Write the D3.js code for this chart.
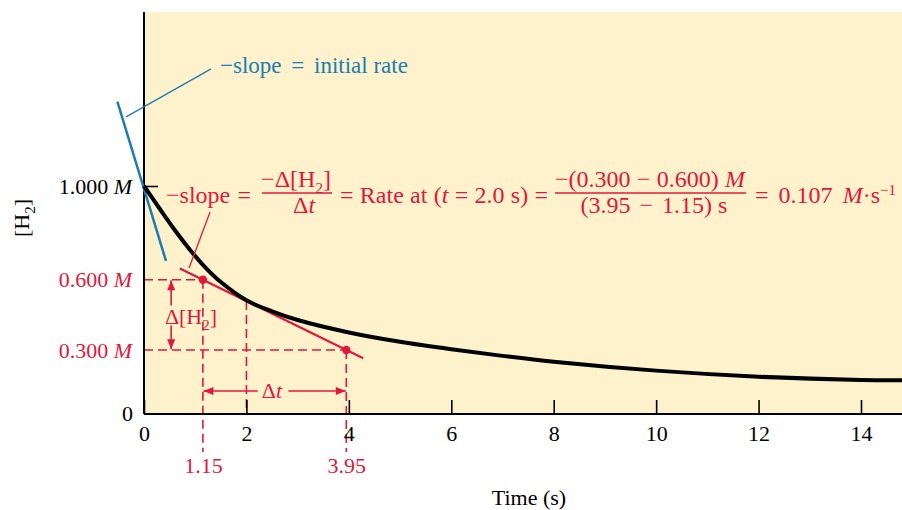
<!DOCTYPE html>
<html>
<head>
<meta charset="utf-8">
<script src="https://cdn.jsdelivr.net/npm/d3@7"></script>
<style>
body { margin: 0; background: #fff; }
svg text { font-family: "Liberation Serif", "Times New Roman", serif; font-size: 22px; }
</style>
</head>
<body>
<div id="chart"></div>
<script>
// [H2] against time
const times = [0, 0.3, 0.6, 0.9, 1.2, 1.5, 2, 2.5, 3, 4, 5, 6, 7, 8, 10, 12, 14, 14.8]
const concs = [1.0, 0.905, 0.812, 0.727, 0.652, 0.59, 0.512, 0.465, 0.428, 0.375, 0.335, 0.303, 0.275, 0.25, 0.212, 0.186, 0.172, 0.171]
const xTicks = [0, 2, 4, 6, 8, 10, 12, 14]
const redTicksX = [1.15, 3.95]
const redTicksY = [0.3, 0.6]

// tangent lines, end points
const initialTangent = [[-0.52, 1.36], [0.43, 0.68]]
const rateTangent = [[0.70, 0.648], [4.28, 0.265]]
const rateDots = [[1.15, 0.600], [3.95, 0.300]]
const tangentPoint = [2.0, 0.509]

const red = '#e0183c'
const blue = '#1b7db2'

const width = 902
const height = 510
const plotL = 144, plotR = 902, plotT = 12, plotB = 414

const x = d3.scaleLinear().domain([0, 14]).range([144, 861])
const y = d3.scaleLinear().domain([0, 1]).range([420.3, 186])

const svg = d3.select('#chart').append('svg')
    .attr('width', width)
    .attr('height', height)

const defs = svg.append('defs')
defs.append('marker')
    .attr('id', 'arrow')
    .attr('viewBox', '0 0 10 8')
    .attr('refX', 10).attr('refY', 4)
    .attr('markerWidth', 11).attr('markerHeight', 8)
    .attr('markerUnits', 'userSpaceOnUse')
    .attr('orient', 'auto')
    .append('path')
    .attr('d', 'M0,0 L10,4 L0,8 Z')
    .attr('fill', red)

// plot background
svg.append('rect')
    .attr('x', plotL).attr('y', plotT)
    .attr('width', plotR - plotL).attr('height', plotB - plotT)
    .attr('fill', '#fdf2cc')

// text with sub/superscripts and italics; spaces widened to reach a width
function rich(sel, px, py, parts, opts = {}) {
    const t = sel.append('text').attr('x', px).attr('y', py)
    if (opts.anchor) t.attr('text-anchor', opts.anchor)
    if (opts.size) t.style('font-size', opts.size + 'px')
    t.attr('fill', opts.fill || '#000')
    let shift = 0
    parts.forEach(([txt, style, gap]) => {
        const s = style === 'sub' ? 6 : style === 'sup' ? -8 : 0
        const ts = t.append('tspan').text(txt).attr('dy', s - shift)
        shift = s
        if (gap) ts.attr('dx', gap)
        if (style === 'i') ts.attr('font-style', 'italic')
        if (style === 'sub' || style === 'sup') ts.style('font-size', '15px')
    })
    if (opts.len) {
        const n = (t.text().match(/ /g) || []).length
        const w = t.node().getComputedTextLength()
        if (n) t.attr('word-spacing', Math.max(0, (opts.len - w) / n))
    }
    return t
}

// dashed guides
const dash = svg.append('g')
    .attr('stroke', red).attr('stroke-width', 1.6)
    .attr('stroke-dasharray', '9,5').attr('fill', 'none')
dash.append('line')
    .attr('x1', plotL).attr('x2', x(rateDots[0][0]))
    .attr('y1', y(rateDots[0][1])).attr('y2', y(rateDots[0][1]))
dash.append('line')
    .attr('x1', plotL).attr('x2', x(rateDots[1][0]))
    .attr('y1', y(rateDots[1][1])).attr('y2', y(rateDots[1][1]))
rateDots.forEach(d => dash.append('line')
    .attr('x1', x(d[0])).attr('x2', x(d[0]))
    .attr('y1', y(d[1])).attr('y2', 452))
dash.append('line')
    .attr('x1', x(tangentPoint[0])).attr('x2', x(tangentPoint[0]))
    .attr('y1', y(tangentPoint[1])).attr('y2', plotB)

// axes
const xAxis = svg.append('g')
    .attr('transform', `translate(0,${plotB})`)
    .call(d3.axisBottom(x).tickValues(xTicks).tickSize(-14).tickPadding(11).tickFormat(d3.format('d')))
xAxis.select('.domain').remove()
xAxis.selectAll('line').attr('stroke', '#000').attr('stroke-width', 1.6)
xAxis.selectAll('text').attr('font-family', null).attr('fill', '#000')

const xRed = svg.append('g')
    .attr('transform', `translate(0,${plotB})`)
    .call(d3.axisBottom(x).tickValues(redTicksX).tickSize(0).tickPadding(43).tickFormat(d3.format('.2f')))
xRed.select('.domain').remove()
xRed.selectAll('text').attr('font-family', null).attr('fill', red)

const yAxis = svg.append('g')
    .attr('transform', `translate(${plotL},0)`)
    .call(d3.axisLeft(y).tickValues([1]).tickSize(-14).tickPadding(12).tickFormat(''))
yAxis.select('.domain').remove()
yAxis.selectAll('line').attr('stroke', '#000').attr('stroke-width', 1.6)
yAxis.selectAll('text').attr('font-family', null).attr('fill', '#000')
    .each(function (d) {
        const t = d3.select(this)
        t.append('tspan').text(d3.format('.3f')(d) + ' ')
        t.append('tspan').attr('font-style', 'italic').text('M')
    })

const yRed = svg.append('g')
    .attr('transform', `translate(${plotL},0)`)
    .call(d3.axisLeft(y).tickValues(redTicksY).tickSize(0).tickPadding(12).tickFormat(''))
yRed.select('.domain').remove()
yRed.selectAll('text').attr('font-family', null).attr('fill', red)
    .each(function (d) {
        const t = d3.select(this)
        t.append('tspan').text(d3.format('.3f')(d) + ' ')
        t.append('tspan').attr('font-style', 'italic').text('M')
    })

svg.append('text')
    .attr('x', 133).attr('y', plotB).attr('dy', '0.32em')
    .attr('text-anchor', 'end')
    .text('0')

// frame lines
svg.append('line').attr('x1', plotL).attr('x2', plotL).attr('y1', plotT).attr('y2', plotB)
    .attr('stroke', '#000').attr('stroke-width', 2)
svg.append('line').attr('x1', plotL).attr('x2', plotR).attr('y1', plotB).attr('y2', plotB)
    .attr('stroke', '#000').attr('stroke-width', 2)

// tangents
const line = d3.line().x(d => x(d[0])).y(d => y(d[1]))
svg.append('path')
    .attr('d', line(initialTangent))
    .attr('stroke', blue).attr('stroke-width', 2.5).attr('fill', 'none')
svg.append('path')
    .attr('d', line(rateTangent))
    .attr('stroke', red).attr('stroke-width', 2.2).attr('fill', 'none')

// concentration curve
const curve = d3.line()
    .x((d, i) => x(times[i]))
    .y(d => y(d))
    .curve(d3.curveCatmullRom.alpha(0.5))
svg.append('path')
    .attr('d', curve(concs))
    .attr('stroke', '#000').attr('stroke-width', 4).attr('fill', 'none')

svg.selectAll('circle.dot')
    .data(rateDots)
    .enter()
    .append('circle')
    .attr('class', 'dot')
    .attr('cx', d => x(d[0]))
    .attr('cy', d => y(d[1]))
    .attr('r', 4.2)
    .attr('fill', red)

// delta arrows
const arrows = svg.append('g').attr('stroke', red).attr('stroke-width', 1.6)
arrows.append('line')
    .attr('x1', x(0.53)).attr('x2', x(0.53)).attr('y1', y(0.49)).attr('y2', y(0.598))
    .attr('marker-end', 'url(#arrow)')
arrows.append('line')
    .attr('x1', x(0.53)).attr('x2', x(0.53)).attr('y1', y(0.405)).attr('y2', y(0.303))
    .attr('marker-end', 'url(#arrow)')
arrows.append('line')
    .attr('x1', x(2.22)).attr('x2', x(1.16)).attr('y1', y(0.125)).attr('y2', y(0.125))
    .attr('marker-end', 'url(#arrow)')
arrows.append('line')
    .attr('x1', x(2.82)).attr('x2', x(3.94)).attr('y1', y(0.125)).attr('y2', y(0.125))
    .attr('marker-end', 'url(#arrow)')

rich(svg, 191, 324, [['Δ[H', ''], ['2', 'sub'], [']', '']], { anchor: 'middle', fill: red })
rich(svg, 272, 398, [['Δ', ''], ['t', 'i']], { anchor: 'middle', fill: red })

// leader lines
svg.append('line')
    .attr('x1', x(-0.35)).attr('y1', y(1.295)).attr('x2', x(1.31)).attr('y2', y(1.50))
    .attr('stroke', blue).attr('stroke-width', 1.3)
svg.append('line')
    .attr('x1', x(1.29)).attr('y1', y(0.889)).attr('x2', x(0.88)).attr('y2', y(0.65))
    .attr('stroke', red).attr('stroke-width', 1.3)

rich(svg, 220, 73, [['−slope', ''], [' =', '', 4], [' initial rate', '', 4]], { fill: blue, size: 23 })

// rate formula
const f = svg.append('g')
const fs = 24
rich(f, 166, 203, [['−slope =', '']], { fill: red, size: fs, len: 85 })
rich(f, 296, 187, [['−Δ[H', ''], ['2', 'sub'], [']', '']], { fill: red, size: fs, anchor: 'middle' })
f.append('line').attr('x1', 262).attr('x2', 332).attr('y1', 193).attr('y2', 193)
    .attr('stroke', red).attr('stroke-width', 1.3)
rich(f, 304, 213, [['Δ', ''], ['t', 'i']], { fill: red, size: fs, anchor: 'middle' })
rich(f, 340, 203, [['= Rate at (', ''], ['t', 'i'], [' = 2.0 s) =', '']], { fill: red, size: fs, len: 208 })
rich(f, 650, 187, [['−(0.300 − 0.600) ', ''], ['M', 'i']], { fill: red, size: fs, anchor: 'middle', len: 190 })
f.append('line').attr('x1', 555).attr('x2', 746).attr('y1', 193).attr('y2', 193)
    .attr('stroke', red).attr('stroke-width', 1.3)
rich(f, 654, 213, [['(3.95', ''], [' −', '', 3], [' 1.15) s', '', 3]], { fill: red, size: fs, anchor: 'middle' })
rich(f, 755, 203, [['= 0.107 ', ''], ['M', 'i'], ['·s', ''], ['−1', 'sup']], { fill: red, size: fs, len: 141 })

// axis titles
svg.append('text')
    .attr('x', 529).attr('y', 505)
    .attr('text-anchor', 'middle')
    .text('Time (s)')
rich(svg, 0, 0, [['[H', ''], ['2', 'sub'], [']', '']], { anchor: 'middle' })
    .attr('transform', 'translate(29,218) rotate(-90)')
</script>
</body>
</html>
